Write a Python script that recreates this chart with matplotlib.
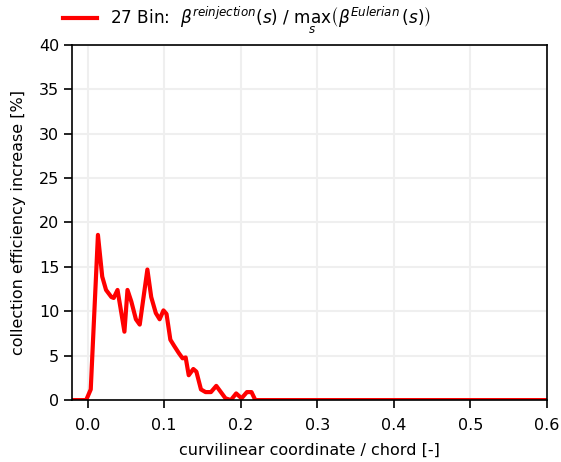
import numpy as np
import matplotlib.pyplot as plt

# curve
s = [-0.02, -0.002, 0.004, 0.0134, 0.019, 0.024, 0.031, 0.034, 0.039, 0.044, 0.048,
     0.052, 0.057, 0.063, 0.068, 0.073, 0.078, 0.083, 0.089, 0.094, 0.099, 0.103,
     0.108, 0.113, 0.119, 0.124, 0.128, 0.132, 0.138, 0.142, 0.148, 0.154, 0.161,
     0.168, 0.174, 0.180, 0.187, 0.194, 0.201, 0.208, 0.214, 0.219, 0.6]
increase = [0, 0, 1.2, 18.6, 13.9, 12.4, 11.6, 11.5, 12.4, 9.8, 7.7,
            12.4, 11.1, 9.1, 8.5, 11.6, 14.7, 11.6, 9.8, 9.1, 10.1, 9.7,
            6.8, 6.1, 5.3, 4.7, 4.8, 2.8, 3.5, 3.2, 1.2, 0.9, 0.9,
            1.6, 0.9, 0.2, 0, 0.75, 0.2, 0.9, 0.9, 0, 0]

label = r'27 Bin:  $\beta^{reinjection}(s)$ / $\max_s\left(\beta^{Eulerian}(s)\right)$'

fig = plt.figure(figsize=(5.61, 4.62), dpi=100)
ax = fig.add_axes([0.129, 0.134, 0.846, 0.769])
ax.plot(s, increase, color='red', lw=3, label=label)

ax.set_xlim(-0.02, 0.6)
ax.set_ylim(0, 40)
ax.set_xticks(np.arange(0, 0.61, 0.1))
ax.set_xticklabels(['0.0', '0.1', '0.2', '0.3', '0.4', '0.5', '0.6'])
ax.set_yticks(np.arange(0, 41, 5))
ax.grid(True, color='#efefef', lw=1.5)
ax.set_axisbelow(True)
for sp in ax.spines.values():
    sp.set_linewidth(1.2)
ax.tick_params(labelsize=11.5, width=1.2, length=6)
ax.tick_params(axis='x', pad=7)
ax.set_xlabel('curvilinear coordinate / chord [-]', fontsize=11.5, labelpad=7)
ax.set_ylabel('collection efficiency increase [%]', fontsize=11.5, labelpad=9)

ax.legend(loc='lower left', bbox_to_anchor=(-0.038, 1.0), frameon=False,
          fontsize=12.2, handlelength=2.0, borderaxespad=0.1)

fig.savefig('out.png', dpi=100)
